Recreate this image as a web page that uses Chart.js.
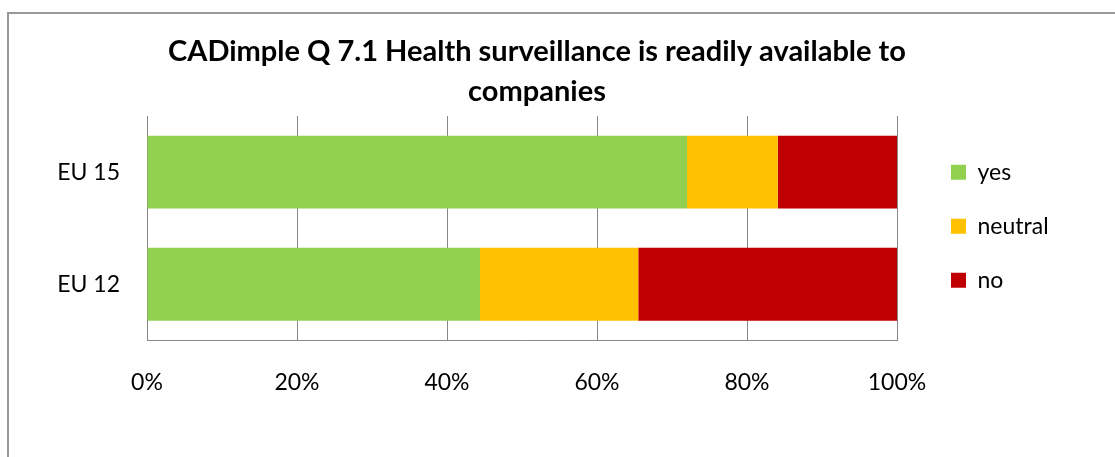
<!DOCTYPE html>
<html>
<head>
    <title>CADimple Q 7.1</title>
    <script src="https://cdn.jsdelivr.net/npm/chart.js"></script>
    <style>
        body { margin: 0; background: #fff; overflow: hidden; }
        .frame { position: absolute; left: 7px; top: 12px; width: 1200px; height: 500px; border: 2px solid #999; }
        #chart { position: absolute; left: 0; top: 0; }
    </style>
</head>
<body>
    <div class="frame"></div>
    <canvas id="chart" width="1115" height="457"></canvas>

<script>
// Datos (porcentaje de respuestas)
const categories = ['EU 15', 'EU 12'];
const yesValues = [72.0, 44.4];
const neutralValues = [12.1, 21.1];
const noValues = [15.9, 34.5];
const xTicks = [0, 20, 40, 60, 80, 100];

const FONT = 'Lato, "DejaVu Sans", sans-serif';

// mueve la leyenda un poco a la derecha (y 2px arriba) del área del gráfico
const legendNudge = {
    id: 'legendNudge',
    afterLayout(chart) {
        chart.legend.left += 23;
        chart.legend.right += 23;
        chart.legend.top -= 2;
        chart.legend.bottom -= 2;
    }
};

new Chart(document.getElementById('chart'), {
    type: 'bar',
    data: {
        labels: categories,
        datasets: [
            { label: 'yes', data: yesValues, backgroundColor: '#92D050' },
            { label: 'neutral', data: neutralValues, backgroundColor: '#FFC000' },
            { label: 'no', data: noValues, backgroundColor: '#C00000' }
        ]
    },
    options: {
        indexAxis: 'y',
        responsive: false,
        animation: false,
        devicePixelRatio: 1,
        layout: { padding: { left: 47, right: 88, top: 0, bottom: 33 } },
        datasets: { bar: { categoryPercentage: 1, barPercentage: 0.65, borderWidth: 0 } },
        plugins: {
            title: {
                display: true,
                text: ['CADimple Q 7.1 Health surveillance is readily available to', 'companies'],
                color: '#000',
                font: { family: FONT, size: 29, weight: 'bold', lineHeight: 1.38 },
                padding: { top: 32, bottom: 4 }
            },
            legend: {
                position: 'right',
                fullSize: false,
                maxWidth: 130,
                labels: {
                    color: '#000',
                    font: { family: FONT, size: 23 },
                    boxWidth: 15,
                    boxHeight: 15,
                    padding: 31
                }
            },
            tooltip: { enabled: false }
        },
        scales: {
            x: {
                stacked: true,
                min: 0,
                max: 100,
                afterBuildTicks: axis => { axis.ticks = xTicks.map(v => ({ value: v })); },
                ticks: {
                    color: '#000',
                    font: { family: FONT, size: 23 },
                    padding: 28,
                    callback: value => value + '%'
                },
                grid: { color: '#888', drawTicks: false },
                border: { color: '#888' }
            },
            y: {
                stacked: true,
                afterFit: axis => { axis.width = 100; },
                ticks: {
                    color: '#000',
                    font: { family: FONT, size: 23 },
                    padding: 27
                },
                grid: { display: false, drawTicks: false },
                border: { color: '#888' }
            }
        }
    },
    plugins: [legendNudge]
});
</script>
</body>
</html>
